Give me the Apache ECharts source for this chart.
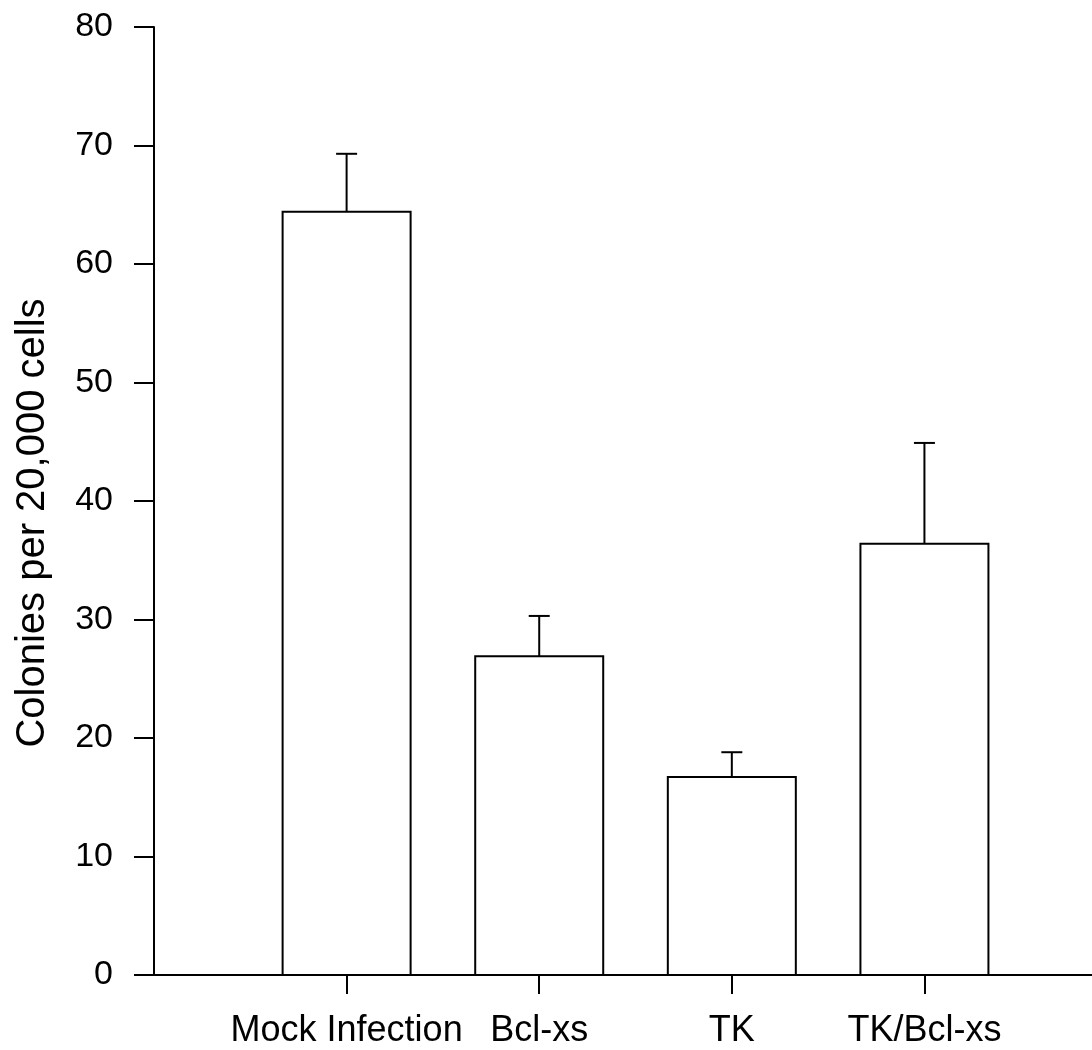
<!DOCTYPE html>
<html><head><meta charset="utf-8">
<script src="https://cdn.jsdelivr.net/npm/echarts@6/dist/echarts.min.js"></script>
<style>html,body{margin:0;padding:0;background:#fff}#c{width:1092px;height:1050px}</style>
</head><body><div id="c"></div>
<script>
const categories = ['Mock Infection', 'Bcl-xs', 'TK', 'TK/Bcl-xs'];
const means = [64.4, 26.9, 16.7, 36.4];
const upperErrors = [69.3, 30.3, 18.8, 44.9];
const yMin = 0, yMax = 80, yStep = 10;
const yTitle = 'Colonies per 20,000 cells';

const positions = categories.map((_, i) => i + 1);
const barData = positions.map((x, i) => [x, means[i]]);
const errData = positions.map((x, i) => [x, means[i], upperErrors[i]]);
const FONT = '"Liberation Sans", Arial, sans-serif';
const BAR_W = 128;

const chart = echarts.init(document.getElementById('c'), null, {renderer: 'canvas'});
chart.setOption({
  animation: false,
  backgroundColor: '#fff',
  grid: {left: 154, right: 0, top: 27, bottom: 75, containLabel: false, outerBoundsMode: 'none'},
  xAxis: {
    type: 'value', min: 0, max: 4.87, interval: 1,
    splitLine: {show: false},
    axisLine: {lineStyle: {color: '#000', width: 2}},
    axisTick: {show: true, length: 19, inside: false, customValues: positions, lineStyle: {color: '#000', width: 2}},
    axisLabel: {
      customValues: positions, margin: 38,
      color: '#000', fontSize: 36, fontFamily: FONT,
      formatter: v => categories[Math.round(v) - 1] || ''
    }
  },
  yAxis: {
    type: 'value', min: yMin, max: yMax, interval: yStep,
    splitLine: {show: false},
    axisLine: {show: true, lineStyle: {color: '#000', width: 2}},
    axisTick: {show: true, length: 20, lineStyle: {color: '#000', width: 2}},
    axisLabel: {margin: 41, color: '#000', fontSize: 34, fontFamily: FONT},
    name: yTitle, nameLocation: 'middle', nameGap: 101, nameRotate: 90,
    nameTextStyle: {color: '#000', fontSize: 40, fontFamily: FONT, padding: [0, 44, 0, 0]}
  },
  series: [
    {
      type: 'custom', data: barData, z: 2,
      renderItem: function (params, api) {
        const x = api.value(0), v = api.value(1);
        const pTop = api.coord([x, v]);
        const pBase = api.coord([x, 0]);
        return {type: 'rect',
          shape: {x: pTop[0] - BAR_W / 2, y: pTop[1], width: BAR_W, height: pBase[1] - pTop[1]},
          style: {fill: '#fff', stroke: '#000', lineWidth: 2}};
      }
    },
    {
      type: 'custom', data: errData, z: 3,
      renderItem: function (params, api) {
        const x = api.value(0), lo = api.value(1), hi = api.value(2);
        const p0 = api.coord([x, lo]);
        const p1 = api.coord([x, hi]);
        const half = 10.5;
        return {type: 'group', children: [
          {type: 'line', shape: {x1: p0[0], y1: p0[1], x2: p1[0], y2: p1[1]}, style: {stroke: '#000', lineWidth: 2}},
          {type: 'line', shape: {x1: p1[0] - half, y1: p1[1], x2: p1[0] + half, y2: p1[1]}, style: {stroke: '#000', lineWidth: 2}}
        ]};
      }
    }
  ]
});
</script></body></html>
